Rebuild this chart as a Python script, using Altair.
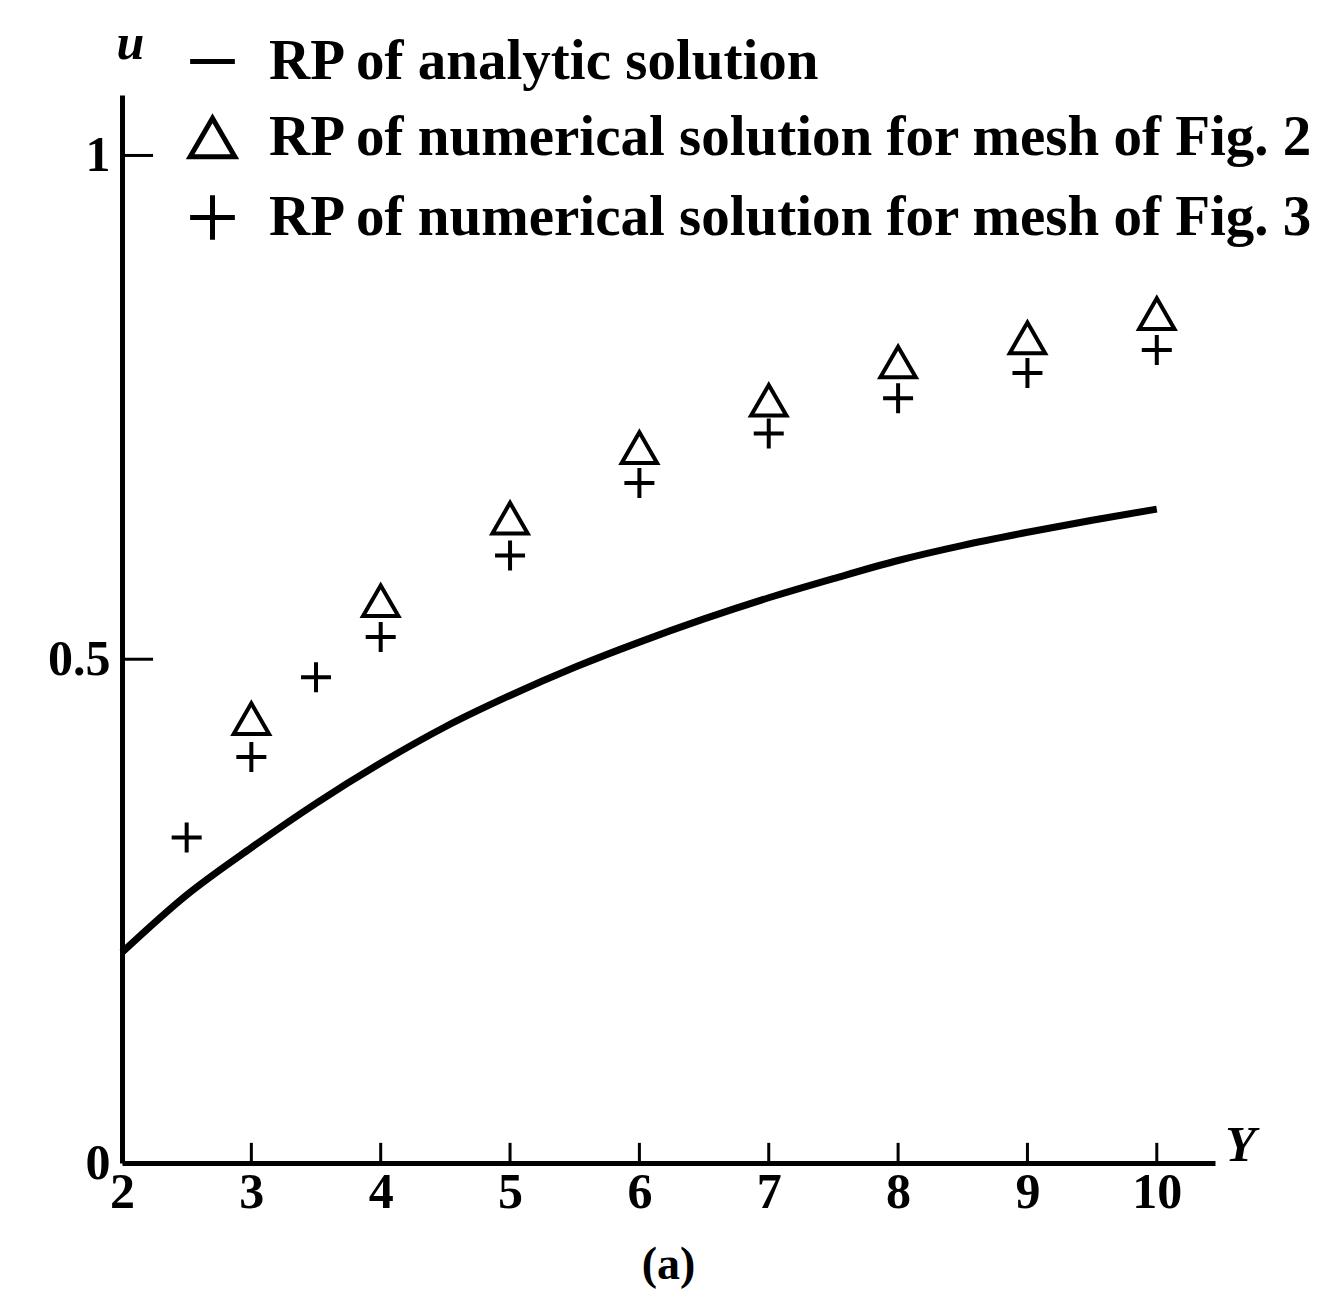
import altair as alt
import pandas as pd

# Real part (RP) of u along Y: analytic curve and two numerical meshes
x_curve = [2, 2.5, 3, 3.5, 4, 4.5, 5, 5.5, 6, 6.5, 7, 7.5, 8, 8.5, 9, 9.5, 10]
u_curve = [0.209, 0.266, 0.313, 0.357, 0.397, 0.433, 0.464, 0.492, 0.517,
           0.540, 0.561, 0.580, 0.598, 0.613, 0.626, 0.638, 0.649]

x_tri = [3, 4, 5, 6, 7, 8, 9, 10]
u_tri = [0.441, 0.558, 0.640, 0.710, 0.757, 0.795, 0.819, 0.843]

x_plus = [2.5, 3, 3.5, 4, 5, 6, 7, 8, 9, 10]
u_plus = [0.323, 0.403, 0.482, 0.522, 0.603, 0.675, 0.724, 0.759, 0.784, 0.807]

series_names = [
    "RP of analytic solution",
    "RP of numerical solution for mesh of Fig. 2",
    "RP of numerical solution for mesh of Fig. 3",
]

x_ticks = [2, 3, 4, 5, 6, 7, 8, 9, 10]
y_ticks = [0, 0.5, 1]

FONT = "Liberation Serif"
PLUS = "M-1,0H1M0,-1V1"

curve_df = pd.DataFrame({"Y": x_curve, "u": u_curve, "series": series_names[0]})
pts_df = pd.concat([
    pd.DataFrame({"Y": x_tri, "u": u_tri, "series": series_names[1]}),
    pd.DataFrame({"Y": x_plus, "u": u_plus, "series": series_names[2]}),
], ignore_index=True)

xscale = alt.Scale(domain=[2, 10.45], nice=False, zero=False)
yscale = alt.Scale(domain=[0, 1.06], nice=False, zero=False)

x_axis = alt.Axis(values=x_ticks, title="Y", titleFont=FONT, titleFontSize=50,
                  titleFontStyle="italic", titleFontWeight="bold", titleAngle=0,
                  titleX=1118, titleY=-18, titleBaseline="middle", titleAlign="center",
                  labelFlush=False, labelPadding=4, format="d")
y_axis = alt.Axis(values=y_ticks, title="u", titleFont=FONT, titleFontSize=50,
                  titleFontStyle="italic", titleFontWeight="bold", titleAngle=0,
                  titleX=8, titleY=-52, titleBaseline="middle", titleAlign="center",
                  labelPadding=12, format="~g")

curve = alt.Chart(curve_df).mark_line(color="black", strokeWidth=7, interpolate="monotone").encode(
    x=alt.X("Y:Q", scale=xscale, axis=x_axis),
    y=alt.Y("u:Q", scale=yscale, axis=y_axis),
)

points = alt.Chart(pts_df).mark_point(filled=False, stroke="black", strokeWidth=4, opacity=1).encode(
    x=alt.X("Y:Q", scale=xscale),
    y=alt.Y("u:Q", scale=yscale),
    shape=alt.Shape(
        "series:N",
        scale=alt.Scale(domain=series_names, range=["stroke", "triangle-up", PLUS]),
        legend=alt.Legend(
            orient="none", legendX=62, legendY=-62, title=None,
            labelFont=FONT, labelFontSize=57, labelFontWeight="bold", labelColor="black",
            symbolSize=2000, symbolStrokeWidth=5, symbolStrokeColor="black",
            symbolFillColor="transparent", labelOffset=28, rowPadding=18,
            padding=0, labelLimit=2000,
        ),
    ),
    size=alt.Size("series:N", scale=alt.Scale(domain=series_names[1:], range=[1250, 900]), legend=None),
)

# inward tick marks on both axes
xt_df = pd.DataFrame({"Y": x_ticks[1:], "u0": 0.0, "u1": 0.02})
x_tick_marks = alt.Chart(xt_df).mark_rule(color="black", strokeWidth=3).encode(
    x=alt.X("Y:Q", scale=xscale), y=alt.Y("u0:Q", scale=yscale), y2="u1:Q")

yt_df = pd.DataFrame({"u": y_ticks[1:], "Y0": 2.0, "Y1": 2.24})
y_tick_marks = alt.Chart(yt_df).mark_rule(color="black", strokeWidth=3).encode(
    y=alt.Y("u:Q", scale=yscale), x=alt.X("Y0:Q", scale=xscale), x2="Y1:Q")

chart = alt.layer(curve, points, x_tick_marks, y_tick_marks).properties(
    width=1093, height=1068,
    autosize=alt.AutoSizeParams(type="none"),
    padding={"left": 122, "top": 95, "right": 103, "bottom": 151},
    title=alt.TitleParams("(a)", orient="bottom", font=FONT, fontSize=46,
                          fontWeight="bold", color="black", anchor="middle", offset=26),
    background="white",
).configure_view(stroke=None).configure_axis(
    grid=False, ticks=False, domainColor="black", domainWidth=5,
    labelFont=FONT, labelFontSize=50, labelFontWeight="bold", labelColor="black",
    titleColor="black",
)

chart.save("out.html", embed_options={"renderer": "svg", "actions": False})
